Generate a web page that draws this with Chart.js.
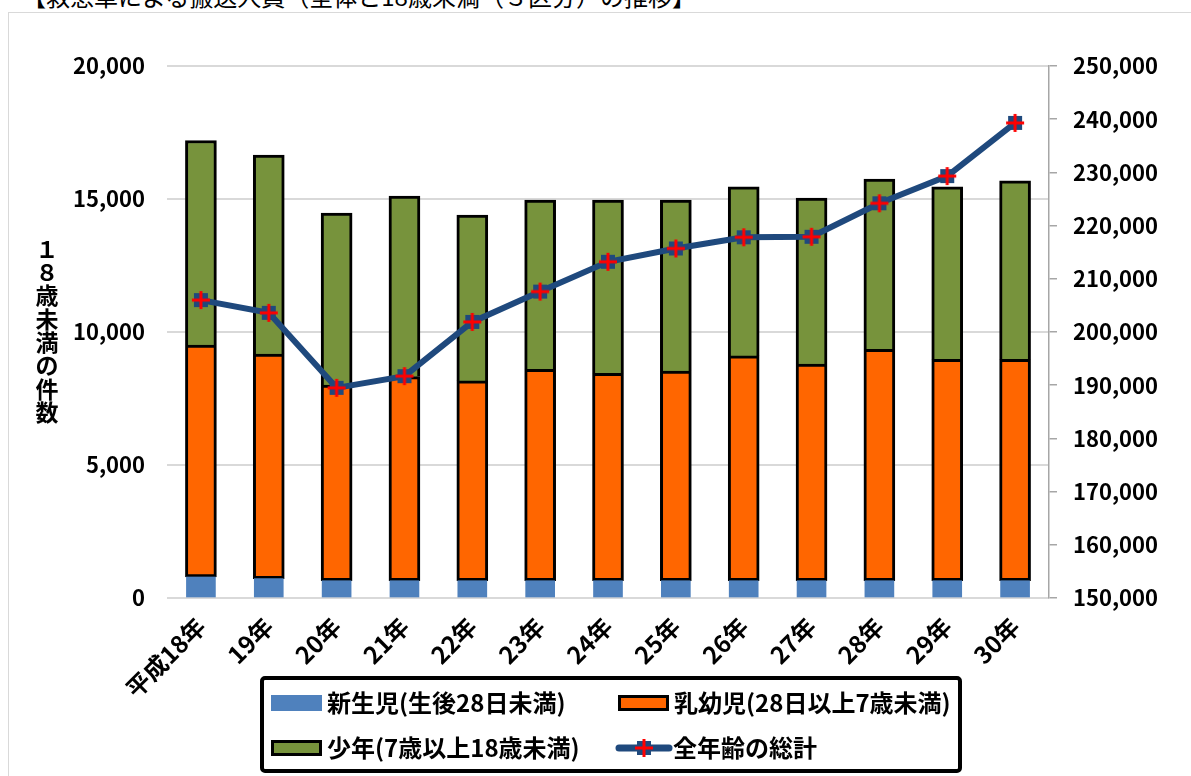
<!DOCTYPE html>
<html lang="ja">
<head>
<meta charset="UTF-8">
<title>救急車による搬送人員の推移</title>
<script src="https://cdn.jsdelivr.net/npm/chart.js@4.4.1/dist/chart.umd.min.js"></script>
<style>
  html, body { margin: 0; padding: 0; background: #fff; overflow: hidden; }
  body { width: 1191px; height: 776px; position: relative; font-family: "Noto Sans CJK JP", sans-serif; }
  #heading { position: absolute; left: 22px; top: -16px; font-size: 24px; line-height: 24px; color: #000; white-space: nowrap; }
  #frame { position: absolute; left: 8px; top: 12px; width: 1200px; height: 800px; border: 1px solid #d9d9d9; }
  #wrap { position: absolute; left: 0; top: 0; width: 1191px; height: 776px; }
</style>
</head>
<body>
<div id="heading">【救急車による搬送人員（全体と18歳未満（３区分）の推移】</div>
<div id="frame"></div>
<div id="wrap"><canvas id="chart"></canvas></div>
<script>
// 年次
const years = ['平成18年', '19年', '20年', '21年', '22年', '23年', '24年', '25年', '26年', '27年', '28年', '29年', '30年'];
// 18歳未満（件）
const newborn = [790, 730, 650, 650, 650, 650, 650, 650, 650, 650, 650, 650, 650];
const infant = [8720, 8440, 7350, 7670, 7510, 7950, 7800, 7880, 8450, 8140, 8700, 8320, 8320];
const youth = [7690, 7480, 6470, 6790, 6240, 6360, 6510, 6430, 6360, 6240, 6400, 6490, 6710];
// 全年齢（人）
const allAges = [206000, 203600, 189500, 191700, 201900, 207600, 213200, 215700, 217800, 217900, 224200, 229300, 239300];

const yTitle = '１８歳未満の件数';
const FONT = '"Noto Sans CJK JP", "Noto Sans", sans-serif';
const lineColor = '#1F497D';

function makeMarker() {
    const c = document.createElement('canvas');
    c.width = 20;
    c.height = 20;
    const g = c.getContext('2d');
    g.fillStyle = lineColor;
    g.fillRect(3, 3, 14, 14);
    g.strokeStyle = '#FF0000';
    g.lineWidth = 3;
    g.beginPath();
    g.moveTo(10, 1); g.lineTo(10, 19);
    g.moveTo(1, 10); g.lineTo(19, 10);
    g.stroke();
    return c;
}
const marker = makeMarker();

const fmt = v => Number(v).toLocaleString('en-US');

// 縦書きの軸タイトル
const yTitlePlugin = {
    id: 'yTitle',
    afterDraw(chart) {
        const ctx = chart.ctx;
        ctx.save();
        ctx.font = 'bold 23px ' + FONT;
        ctx.fillStyle = '#000';
        ctx.textAlign = 'center';
        ctx.textBaseline = 'middle';
        Array.from(yTitle).forEach((ch, i) => ctx.fillText(ch, 47, 249 + i * 23.3));
        ctx.restore();
    }
};

// 枠付きの凡例（2列）
const boxLegend = {
    id: 'boxLegend',
    afterDraw(chart) {
        const ctx = chart.ctx;
        const ds = chart.data.datasets;
        ctx.save();
        ctx.lineWidth = 4;
        ctx.strokeStyle = '#000';
        ctx.beginPath();
        ctx.roundRect(262, 678, 698, 93, 3);
        ctx.stroke();

        const items = [
            { d: ds[1], x: 271, y: 703 },
            { d: ds[2], x: 618, y: 703 },
            { d: ds[3], x: 271, y: 748 },
            { d: ds[0], x: 617, y: 748 }
        ];
        ctx.font = 'bold 24px ' + FONT;
        ctx.textBaseline = 'middle';
        ctx.textAlign = 'left';
        for (const it of items) {
            if (it.d.type === 'line') {
                ctx.strokeStyle = it.d.borderColor;
                ctx.lineWidth = 7;
                ctx.lineCap = 'round';
                ctx.beginPath();
                ctx.moveTo(it.x + 2, it.y);
                ctx.lineTo(it.x + 52, it.y);
                ctx.stroke();
                ctx.drawImage(marker, it.x + 27 - 10, it.y - 10);
            } else {
                ctx.fillStyle = it.d.backgroundColor;
                ctx.fillRect(it.x, it.y - 8, 51, 16);
                if (it.d.borderColor) {
                    ctx.strokeStyle = it.d.borderColor;
                    ctx.lineWidth = 3;
                    ctx.strokeRect(it.x + 1.5, it.y - 6.5, 48, 13);
                }
            }
            ctx.fillStyle = '#000';
            ctx.fillText(it.d.label, it.x + 56, it.y);
        }
        ctx.restore();
    }
};

new Chart(document.getElementById('chart'), {
    data: {
        labels: years,
        datasets: [
            {
                type: 'line',
                label: '全年齢の総計',
                data: allAges,
                yAxisID: 'y1',
                order: 0,
                borderColor: lineColor,
                borderWidth: 6,
                pointStyle: marker,
                pointRadius: 8,
                tension: 0
            },
            {
                type: 'bar',
                label: '新生児(生後28日未満)',
                data: newborn,
                yAxisID: 'y',
                order: 1,
                backgroundColor: '#4F81BD',
                barThickness: 29
            },
            {
                type: 'bar',
                label: '乳幼児(28日以上7歳未満)',
                data: infant,
                yAxisID: 'y',
                order: 1,
                backgroundColor: '#FF6600',
                borderColor: '#000',
                borderWidth: 3,
                borderSkipped: false,
                barThickness: 31
            },
            {
                type: 'bar',
                label: '少年(7歳以上18歳未満)',
                data: youth,
                yAxisID: 'y',
                order: 1,
                backgroundColor: '#77933C',
                borderColor: '#000',
                borderWidth: { top: 3, left: 3, right: 3, bottom: 0 },
                borderSkipped: false,
                barThickness: 31
            }
        ]
    },
    options: {
        responsive: true,
        maintainAspectRatio: false,
        animation: false,
        layout: { padding: { top: 66, left: 0, right: 0, bottom: 68 } },
        plugins: {
            legend: { display: false },
            tooltip: { enabled: false }
        },
        scales: {
            x: {
                stacked: true,
                grid: { display: false },
                border: { display: false },
                ticks: {
                    color: '#000',
                    font: { family: FONT, size: 24, weight: 'bold' },
                    minRotation: 45,
                    maxRotation: 45,
                    autoSkip: false,
                    padding: 6
                },
                afterFit(scale) { scale.height = 110; }
            },
            y: {
                position: 'left',
                stacked: true,
                min: 0,
                max: 20000,
                ticks: {
                    stepSize: 5000,
                    color: '#000',
                    font: { family: FONT, size: 22, weight: 'bold' },
                    padding: 22,
                    callback: v => fmt(v)
                },
                grid: { color: '#d9d9d9', lineWidth: 2, drawTicks: false },
                border: { display: false },
                afterFit(scale) { scale.width = 167; }
            },
            y1: {
                position: 'right',
                min: 150000,
                max: 250000,
                ticks: {
                    stepSize: 10000,
                    color: '#000',
                    font: { family: FONT, size: 22, weight: 'bold' },
                    padding: 16,
                    callback: v => fmt(v)
                },
                grid: { drawOnChartArea: false, drawTicks: true, tickLength: 8, color: '#a6a6a6', lineWidth: 1.5 },
                border: { display: true, color: '#a6a6a6', width: 1.5 },
                afterFit(scale) { scale.width = 142; }
            }
        }
    },
    plugins: [yTitlePlugin, boxLegend]
});
</script>
</body>
</html>
